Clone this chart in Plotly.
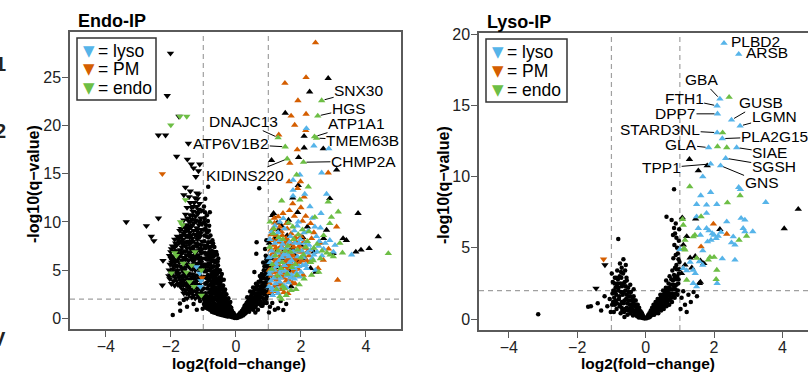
import plotly.graph_objects as go

W, H = 808, 374
BLUE = '#56B4E9'
ORANGE = '#D55E00'
GREEN = '#6DBE45'
BLACK = '#000000'
AXC = '#5a5a5a'
FONT = 'Liberation Sans, Arial, Helvetica, sans-serif'

FC_CUT = 1.0
Q_CUT = 2.0

# ---------------- Endo-IP data (log2 fold-change, -log10 q) ----------------
endo_ns = [
    (-0.97,1.9),(-0.99,3.1),(-0.96,4.3),(-0.98,5.6),(-0.95,6.8),(-0.97,8.0),(-0.99,9.2),(-0.96,10.4),(-0.98,11.6),
    (-0.91,1.6),(-0.93,2.6),(-0.9,3.7),(-0.92,4.9),(-0.89,6.1),(-0.93,7.3),(-0.9,8.5),(-0.92,9.7),(-0.94,12.4),
    (-0.85,1.4),(-0.87,2.3),(-0.84,3.4),(-0.86,4.5),(-0.83,5.7),(-0.87,6.7),(-0.85,7.9),(-0.83,9.1),(-0.86,10.1),(-0.85,13.65),
    (-0.79,1.2),(-0.81,2.1),(-0.78,3.0),(-0.8,4.1),(-0.77,5.2),(-0.81,6.3),(-0.79,7.4),(-0.78,8.6),(-0.8,11.0),
    (-0.73,1.0),(-0.75,1.9),(-0.72,2.8),(-0.74,3.8),(-0.71,4.8),(-0.75,5.9),(-0.73,7.0),(-0.72,8.1),
    (-0.67,0.9),(-0.69,1.7),(-0.66,2.6),(-0.68,3.5),(-0.65,4.5),(-0.69,5.4),(-0.67,6.5),(-0.66,7.4),
    (-0.61,0.8),(-0.63,1.5),(-0.6,2.4),(-0.62,3.2),(-0.59,4.1),(-0.63,5.0),(-0.61,6.0),(-0.6,6.9),
    (-0.55,0.7),(-0.57,1.4),(-0.54,2.2),(-0.56,3.0),(-0.53,3.8),(-0.57,4.6),(-0.55,5.5),(-0.54,6.2),
    (-0.49,0.6),(-0.51,1.2),(-0.48,1.9),(-0.5,2.7),(-0.47,3.4),(-0.51,4.2),(-0.49,5.0),
    (-0.43,0.5),(-0.45,1.1),(-0.42,1.8),(-0.44,2.5),(-0.41,3.2),(-0.45,3.9),(-0.43,4.6),
    (-0.37,0.4),(-0.39,1.0),(-0.36,1.6),(-0.38,2.2),(-0.35,2.8),(-0.39,3.4),(-0.37,4.0),
    (-0.31,0.3),(-0.33,0.8),(-0.3,1.4),(-0.32,1.9),(-0.29,2.5),(-0.33,3.0),
    (-0.25,0.25),(-0.27,0.7),(-0.24,1.2),(-0.26,1.7),(-0.23,2.1),
    (-0.19,0.2),(-0.21,0.6),(-0.18,1.0),(-0.2,1.4),(-0.17,1.7),
    (-0.13,0.15),(-0.15,0.45),(-0.12,0.8),(-0.14,1.1),
    (-0.08,0.08),(-0.09,0.3),(-0.07,0.55),(-0.03,0.04),(-0.04,0.18),
    (-0.88,5.0),(-0.82,6.9),(-0.76,4.4),(-0.7,6.0),(-0.64,3.7),(-0.58,5.1),(-0.52,2.6),(-0.46,4.3),(-0.4,1.4),
    (-0.34,2.0),(-0.28,1.0),(-0.22,0.9),(-0.94,2.2),(-0.76,2.4),(-0.64,1.2),(-0.52,0.9),(-0.88,8.9),(-0.7,7.8),
    (-0.58,6.6),(-0.95,11.0),
    (-0.95,1.3),(-0.97,2.5),(-0.94,3.6),(-0.96,4.9),(-0.93,6.2),(-0.95,7.5),(-0.96,8.6),(-0.93,9.3),(-0.97,10.0),
    (-0.89,2.0),(-0.88,3.1),(-0.9,4.2),(-0.87,5.4),(-0.91,6.6),(-0.88,7.6),(-0.9,9.0),(-0.89,10.7),
    (-0.83,1.7),(-0.82,2.7),(-0.84,3.9),(-0.81,5.0),(-0.85,6.1),(-0.82,7.3),(-0.84,8.4),(-0.82,9.6),
    (-0.77,1.5),(-0.76,2.5),(-0.78,3.5),(-0.75,4.6),(-0.79,5.6),(-0.76,6.6),(-0.77,7.9),
    (-0.71,1.3),(-0.7,2.2),(-0.72,3.2),(-0.69,4.2),(-0.73,5.3),(-0.7,6.4),(-0.71,7.5),
    (-0.65,1.2),(-0.64,2.0),(-0.66,3.0),(-0.63,3.9),(-0.67,4.9),(-0.64,5.8),(-0.66,6.9),
    (-0.59,1.1),(-0.58,1.9),(-0.6,2.8),(-0.57,3.6),(-0.61,4.5),(-0.58,5.4),
    (-0.53,1.0),(-0.52,1.6),(-0.54,2.5),(-0.51,3.3),(-0.55,4.1),(-0.52,4.8),
    (-0.47,0.8),(-0.46,1.5),(-0.48,2.3),(-0.45,3.0),(-0.49,3.7),
    (-0.41,0.7),(-0.4,1.3),(-0.42,2.1),(-0.39,2.7),(-0.43,3.4),
    (-0.35,0.6),(-0.34,1.2),(-0.36,1.8),(-0.33,2.4),
    (-0.29,0.5),(-0.28,1.1),(-0.3,1.6),(-0.27,2.0),
    (-0.23,0.4),(-0.22,0.9),(-0.24,1.4),
    (-0.17,0.35),(-0.16,0.75),(-0.18,1.2),
    (-0.11,0.25),(-0.1,0.6),(-0.06,0.15),(-0.05,0.4),
    (-0.98,1.5),(-0.92,1.1),(-0.86,1.0),(-0.8,0.9),(-0.74,0.7),(-0.68,0.6),(-0.62,0.55),(-0.56,0.45),(-0.5,0.4),
    (-0.44,0.35),(-0.38,0.3),(-0.32,0.25),(-0.26,0.2),(-0.96,5.3),(-0.9,5.6),(-0.84,6.5),(-0.78,6.2),(-0.72,6.7),
    (-0.68,4.0),(-0.62,4.7),(-0.56,5.9),(-0.5,3.1),(-0.44,2.1),(-0.38,1.9),(-0.32,1.6),(-0.26,1.4),(-0.2,1.1),
    (-0.14,0.6),(-0.08,0.4),
    (0.03,0.05),(0.06,0.2),(0.09,0.12),(0.1,0.4),(0.13,0.25),(0.14,0.6),(0.17,0.35),(0.19,0.8),(0.21,0.5),
    (0.23,1.0),(0.25,0.7),(0.27,1.3),(0.29,0.5),(0.31,1.0),(0.33,1.6),(0.35,0.8),(0.37,1.3),(0.39,1.9),
    (0.41,0.7),(0.43,1.5),(0.45,2.2),(0.47,1.1),(0.49,1.8),(0.51,2.6),(0.53,0.9),(0.55,1.5),(0.57,2.2),
    (0.59,3.0),(0.61,1.2),(0.63,1.9),(0.65,2.6),(0.67,3.4),(0.69,1.5),(0.71,2.3),(0.73,3.0),(0.75,3.8),
    (0.77,1.7),(0.79,2.6),(0.81,3.4),(0.83,4.2),(0.85,2.0),(0.87,2.9),(0.89,3.7),(0.91,4.6),(0.93,5.4),
    (0.95,2.3),(0.97,3.2),(0.99,4.1),(0.96,5.0),(0.98,6.0),(0.92,6.5),(0.86,5.0),(0.8,4.6),(0.74,4.4),
    (0.62,3.6),(0.53,3.2),(0.63,6.7),(0.64,7.9),(0.94,8.1),(0.72,13.5),(0.57,4.8),(0.9,7.2),(0.84,5.8),
    (0.44,2.8),(0.35,2.2),(0.68,0.9),(0.82,1.3),(0.95,1.6),(0.6,0.6),
    (0.05,0.1),(0.08,0.3),(0.12,0.5),(0.16,0.2),(0.18,0.6),(0.22,0.3),(0.24,0.8),(0.26,1.1),(0.28,0.9),
    (0.3,1.4),(0.32,0.6),(0.34,1.2),(0.36,1.7),(0.38,1.0),(0.4,1.6),(0.42,2.1),(0.46,1.6),(0.48,2.4),(0.5,1.3),
    (0.52,2.0),(0.54,2.8),(0.56,1.1),(0.58,1.8),(0.6,2.5),(0.62,3.2),(0.64,1.6),(0.66,2.2),(0.68,3.0),(0.7,3.8),
    (0.72,1.9),(0.74,2.6),(0.76,3.3),(0.78,4.1),(0.8,2.2),(0.82,2.9),(0.84,3.7),(0.86,4.5),(0.88,2.5),(0.9,3.3),
    (0.92,4.1),(0.94,4.9),(0.96,5.8),(0.98,2.8),(0.99,3.6),(0.97,4.5),(0.94,6.1),(0.88,5.4),(0.99,5.4),
    (0.07,0.35),(0.11,0.2),(0.15,0.45),(0.2,0.65),(0.25,0.4),(0.3,0.8),(0.35,1.1),(0.4,1.1),(0.45,1.3),
    (0.5,1.0),(0.55,2.0),(0.6,1.8),(0.65,2.0),(0.7,2.6),(0.75,2.2),(0.8,3.0),(0.85,3.3),(0.9,2.6),(0.95,3.7),
    (0.98,4.8),(0.93,2.0),(0.87,1.6),(0.78,1.3),
    (1.3,1.04),(1.46,0.86),(1.05,1.2),(1.2,0.9),(1.12,1.6),(1.38,1.8),(1.55,1.5),(1.02,0.6),
    (-1.72,1.55),(-1.94,0.34),(-1.71,0.8),(-1.3,1.5),(-1.5,1.2),(-1.1,1.8),(-1.2,0.9),(-1.02,1.0),(-1.6,1.9),
]
endo_down_other = [
    (-1.02,2.2),(-1.08,2.6),(-1.15,2.3),(-1.22,2.8),(-1.3,2.4),(-1.38,3.0),(-1.45,2.5),(-1.55,2.9),(-1.62,3.4),
    (-1.04,3.1),(-1.12,3.5),(-1.2,3.9),(-1.28,3.3),(-1.36,3.7),(-1.44,4.1),(-1.5,3.5),(-1.58,4.0),(-1.66,3.8),
    (-1.74,4.3),(-1.82,3.9),(-1.9,4.4),(-1.98,3.6),(-2.03,4.1),(-1.05,4.3),(-1.1,4.8),(-1.18,4.5),(-1.25,5.0),
    (-1.33,4.6),(-1.4,5.2),(-1.48,4.7),(-1.55,5.3),(-1.62,4.9),(-1.7,5.4),(-1.78,5.0),(-1.86,5.5),(-1.94,5.1),
    (-2.02,5.6),(-1.03,5.5),(-1.1,6.0),(-1.17,5.7),(-1.24,6.3),(-1.31,5.9),(-1.39,6.4),(-1.46,6.0),(-1.53,6.6),
    (-1.6,6.2),(-1.68,6.7),(-1.76,6.3),(-1.84,6.8),(-1.92,6.4),(-2.0,6.9),(-1.05,6.8),(-1.12,7.3),(-1.2,7.0),
    (-1.27,7.5),(-1.35,7.1),(-1.43,7.7),(-1.5,7.3),(-1.58,7.8),(-1.66,7.4),(-1.74,7.9),(-1.82,7.6),(-1.88,8.2),
    (-1.04,8.0),(-1.1,8.5),(-1.18,8.2),(-1.26,8.7),(-1.34,8.3),(-1.42,8.9),(-1.5,8.5),(-1.57,9.0),(-1.65,8.6),
    (-1.72,9.1),(-1.06,9.2),(-1.13,9.7),(-1.21,9.4),(-1.29,9.9),(-1.37,9.5),(-1.45,10.1),(-1.52,9.7),(-1.6,10.2),
    (-1.08,10.4),(-1.16,10.9),(-1.24,10.6),(-1.32,11.1),(-1.4,10.7),(-1.2,11.6),(-1.28,12.0),(-1.12,11.9),
    (-1.36,11.5),(-1.18,12.4),(-1.44,12.6),
    (-1.08,3.9),(-1.3,4.2),(-1.52,4.3),(-1.75,4.7),(-1.95,4.8),(-1.15,5.3),(-1.37,5.5),(-1.6,5.7),(-1.82,6.0),
    (-1.26,6.8),(-1.47,6.9),(-1.7,7.1),(-1.95,7.5),(-1.15,7.7),(-1.38,7.9),(-1.62,8.2),(-1.8,8.5),(-1.3,9.1),
    (-1.5,9.4),(-1.15,8.9),(-1.4,3.4),(-1.7,3.3),(-1.88,3.4),(-1.6,2.6),(-1.25,2.1),(-1.12,10.1),(-1.55,10.8),
    (-1.06,2.9),(-1.19,3.1),(-1.33,2.7),(-1.48,3.2),(-1.57,3.6),(-1.72,3.6),(-1.85,4.2),(-2.0,4.5),(-1.13,4.1),
    (-1.27,4.4),(-1.42,4.6),(-1.58,4.5),(-1.68,4.4),(-1.8,4.6),(-1.92,5.4),(-2.05,5.0),(-1.07,5.0),(-1.21,5.5),
    (-1.34,5.1),(-1.5,5.6),(-1.64,5.2),(-1.74,5.8),(-1.88,5.8),(-1.99,6.2),(-1.08,5.8),(-1.2,6.4),(-1.35,6.2),
    (-1.44,6.5),(-1.57,6.3),(-1.72,6.5),(-1.8,7.0),(-1.9,7.0),(-1.07,7.6),(-1.23,7.8),(-1.31,7.4),(-1.46,8.0),
    (-1.55,7.5),(-1.68,8.0),(-1.78,8.2),(-1.85,7.8),(-1.09,8.8),(-1.22,8.6),(-1.38,8.6),(-1.46,9.2),(-1.6,8.8),
    (-1.68,9.3),(-1.1,9.9),(-1.26,10.2),(-1.35,10.3),(-1.48,10.4),(-1.56,9.4),(-1.2,11.0),(-1.3,11.6),(-1.4,12.0),
    (-1.15,12.9),(-1.25,12.5),(-1.5,11.5),(-1.05,11.2),(-1.03,6.2),(-1.03,7.2),(-1.04,9.8),(-1.14,6.6),(-1.3,6.5),
    (-1.56,7.0),(-1.4,4.0),(-1.64,4.2),(-1.25,3.7),(-1.12,2.1),(-1.35,2.2),(-1.5,2.1),(-1.95,6.0),(-2.04,6.5),
    (-1.98,7.2),
    (-1.03,2.5),(-1.1,3.3),(-1.17,2.6),(-1.23,3.5),(-1.32,3.0),(-1.42,2.8),(-1.52,2.6),(-1.63,3.0),(-1.78,3.5),
    (-1.92,3.9),(-2.06,4.4),(-1.14,4.4),(-1.22,4.1),(-1.36,4.3),(-1.46,3.8),(-1.56,4.7),(-1.7,4.0),(-1.84,4.9),
    (-1.97,5.8),(-1.09,5.3),(-1.28,5.6),(-1.44,5.4),(-1.58,5.0),(-1.66,6.0),(-1.8,5.4),(-1.9,6.1),(-1.13,6.3),
    (-1.28,6.1),(-1.41,6.8),(-1.55,6.1),(-1.64,6.9),(-1.78,6.7),(-1.88,7.4),(-1.1,7.0),(-1.2,7.5),(-1.4,7.3),
    (-1.52,7.9),(-1.64,7.7),(-1.72,8.4),(-1.17,8.5),(-1.32,8.0),(-1.42,8.4),(-1.55,8.6),(-1.2,9.1),(-1.34,9.7),
    (-1.43,9.6),(-1.22,10.1),(-1.4,10.1),(-1.15,11.3),(-1.33,10.7),
    (-2.01,27.5),(-2.11,23.1),(-1.75,20.95),(-2.38,19.0),(-2.16,19.0),(-1.46,18.15),(-1.82,16.8),(-1.49,16.5),
    (-1.37,16.0),(-1.11,16.0),(-3.37,10.0),(-2.38,10.4),(-2.75,9.6),(-2.6,8.5),(-2.52,8.05),(-2.24,6.0),
    (-2.26,3.45),(-1.23,14.7),(-1.15,15.3),(-1.3,15.6),(-1.55,13.6),(-1.4,13.2),(-1.2,13.0),(-1.6,12.8),
]
endo_down_endo = [(-2.0,20.05),(-1.72,20.95),(-1.51,20.95),(-1.55,12.3),(-1.7,10.0),(-1.65,9.7),(-1.88,6.8),
                  (-1.26,6.9),(-1.62,5.7),(-1.36,5.5),(-1.98,4.7),(-1.52,4.8),(-1.06,5.0),(-1.29,3.3),(-1.06,2.4),
                  (-1.42,3.8),(-1.83,6.5)]
endo_down_lyso = [(-1.21,5.35),(-1.11,4.67),(-1.09,3.3),(-1.07,3.9)]
endo_down_pm = [(-2.26,15.0),(-1.04,4.2)]

endo_up_other = [
    (2.84,24.9),(2.27,23.5),(1.52,21.3),(2.1,18.9),(2.69,17.6),(2.1,17.7),(1.1,16.4),(1.93,16.7),(3.1,15.4),
    (1.92,13.8),(1.75,12.5),(2.89,12.45),(3.76,10.9),(1.13,10.7),(1.16,10.9),(1.62,10.2),(2.79,9.16),(3.3,8.3),
    (3.4,8.1),(4.38,8.47),(3.69,6.9),(3.85,7.1),(4.1,7.26),(2.99,6.75),(2.7,8.3),(2.46,4.8),(1.09,2.6),
    (1.2,8.3),(1.5,7.1),(1.8,6.6),(1.35,5.3),(1.65,4.9),(2.0,7.6),(1.1,6.2),(2.2,9.5),(1.4,9.6),(1.9,11.0),
    (2.3,5.2),(1.25,3.5),(1.7,3.3),(1.03,7.8),(1.58,8.6),(2.12,6.2),(1.27,9.9),
    (1.06,5.4),(1.24,6.9),(1.44,6.2),(1.58,5.6),(1.73,7.3),(1.88,6.0),(2.06,8.4),(2.4,6.9),(1.32,9.2),(1.15,4.2),
]
endo_up_pm = [
    (2.45,28.6),(1.51,24.4),(2.16,25.0),(1.91,22.6),(1.7,21.0),(2.16,21.2),(1.81,20.05),(2.15,19.5),(1.32,19.05),
    (1.89,17.5),(1.66,16.1),(2.84,15.1),(1.64,14.2),(1.99,14.2),(1.9,13.5),(2.1,12.6),(1.3,10.55),(1.56,9.85),
    (2.3,9.85),(3.1,9.5),(2.69,6.05),(2.53,5.19),(1.82,3.6),(1.05,3.6),(3.13,3.97),
    (1.12,9.2),(1.25,8.6),(1.4,9.0),(1.55,8.3),(1.7,8.8),(1.85,8.0),(2.0,8.5),(1.18,7.6),(1.32,7.2),(1.48,7.7),
    (1.62,7.0),(1.78,7.4),(1.95,6.9),(2.12,7.3),(2.25,6.5),(1.08,6.5),(1.22,6.1),(1.38,6.6),(1.52,5.9),(1.68,6.3),
    (1.85,5.7),(2.02,6.0),(1.15,5.2),(1.3,5.6),(1.45,5.0),(1.6,5.4),(1.75,4.8),(1.92,5.1),(1.1,4.4),(1.25,4.0),
    (1.4,4.5),(1.55,3.9),(1.7,4.3),(1.2,3.3),(1.38,3.0),(1.05,2.7),(2.4,8.9),(2.6,7.8),(2.15,10.6),(1.45,10.9),
    (2.0,11.5),(1.75,11.9),(2.85,7.2),(1.6,2.6),
    (1.14,8.1),(1.34,7.9),(1.5,6.4),(1.66,5.9),(1.24,4.8),(1.47,4.2),(1.32,3.6),(1.8,6.1),(1.95,7.5),(1.18,5.7),
    (1.03,5.0),(1.07,7.1),(1.09,8.7),(1.13,4.8),(1.16,6.8),(1.19,9.9),(1.21,4.3),(1.23,7.3),(1.27,5.9),(1.29,8.2),
    (1.33,4.9),(1.36,6.3),(1.39,7.5),(1.41,3.5),(1.43,8.6),(1.46,5.4),(1.49,6.9),(1.51,4.7),(1.54,7.9),(1.57,5.1),
    (1.59,6.1),(1.61,8.1),(1.63,4.0),(1.67,6.7),(1.69,5.6),(1.72,7.7),(1.74,3.7),(1.77,6.5),(1.79,5.0),(1.83,8.4),
    (1.87,6.2),(1.9,4.4),(1.93,7.2),(1.97,5.8),(2.03,6.9),(2.07,4.5),(2.1,8.0),(2.18,6.0),(2.22,7.0),(2.28,5.9),
    (2.33,8.3),(1.11,3.0),(1.26,2.8),(1.48,2.7),(1.18,10.4),(1.35,9.5),(1.58,9.3),(1.8,10.6),(2.05,10.1),(1.65,11.2),
]
endo_up_lyso = [
    (2.17,19.7),(2.4,17.9),(2.86,17.6),(2.64,15.1),(1.97,14.9),(1.76,14.35),(1.76,13.3),(1.76,12.7),(2.12,12.9),
    (2.79,12.9),(2.28,11.6),(2.62,10.9),(1.46,10.37),(1.92,10.0),(2.43,9.5),(3.05,7.6),(2.89,8.1),(2.56,8.0),
    (3.56,6.6),(1.97,4.3),(1.69,4.2),(1.15,2.9),
    (1.05,8.2),(1.2,9.6),(1.35,8.1),(1.5,9.3),(1.65,7.9),(1.8,9.1),(1.95,7.8),(2.1,8.9),(2.25,7.6),(1.1,7.0),
    (1.28,6.8),(1.42,6.3),(1.58,6.7),(1.72,6.0),(1.9,6.4),(2.05,5.5),(2.2,6.8),(2.35,6.2),(1.05,5.8),(1.18,5.0),
    (1.35,4.7),(1.5,5.5),(1.65,5.8),(1.8,5.2),(2.0,4.8),(2.15,5.6),(1.08,3.9),(1.22,3.6),(1.35,3.8),(1.48,3.4),
    (1.62,3.7),(1.8,4.1),(1.12,3.1),(1.3,2.6),(2.7,7.2),(2.5,6.9),(2.45,5.0),(3.0,6.9),(2.6,9.4),(2.35,10.4),
    (1.04,4.6),(1.4,7.3),(1.57,4.4),(1.25,5.4),(1.85,7.0),(1.02,3.3),
    (1.02,6.3),(1.06,4.9),(1.1,9.0),(1.14,6.4),(1.17,4.2),(1.2,7.8),(1.24,5.7),(1.27,3.1),(1.3,8.9),(1.33,6.0),
    (1.37,4.2),(1.4,5.0),(1.44,7.7),(1.47,6.6),(1.52,4.9),(1.55,7.3),(1.6,4.7),(1.63,6.4),(1.68,8.5),(1.71,4.5),
    (1.76,6.9),(1.82,7.8),(1.86,4.7),(1.89,9.6),(1.94,5.4),(1.98,8.2),(2.03,7.0),(2.08,6.3),(2.13,7.8),(2.18,5.2),
    (2.23,9.1),(2.3,7.1),(2.4,6.6),(2.48,8.5),(2.55,7.5),(2.65,6.5),(2.75,7.8),(1.13,2.4),(1.22,2.9),(1.56,3.2),
    (1.35,10.0),
]
endo_up_endo = [
    (2.64,22.6),(2.52,21.0),(2.42,18.85),(2.48,18.7),(1.3,18.75),(1.52,17.8),(1.58,16.55),(2.08,16.2),(1.87,14.9),
    (2.23,13.65),(1.41,12.2),(1.97,12.3),(2.84,12.1),(3.15,11.05),(2.94,10.5),(2.43,10.5),(1.05,10.0),(2.89,9.85),
    (4.69,6.74),(3.28,6.8),(3.0,6.4),(2.9,6.6),(2.33,4.5),(1.44,3.3),(1.35,2.25),
    (1.15,8.8),(1.45,8.2),(1.75,9.5),(2.05,9.2),(1.3,7.0),(1.6,7.5),(1.9,7.1),(2.2,8.0),(2.4,7.3),(1.12,5.6),
    (1.42,5.8),(1.72,5.3),(2.08,6.6),(2.3,5.8),(2.6,6.2),(1.28,4.4),(1.58,4.6),(1.88,4.5),(2.1,4.1),(1.5,3.1),
    (1.7,2.9),(2.55,4.8),(2.7,8.6),(3.2,7.8),(1.4,2.0),(1.95,3.5),
    (1.04,7.4),(1.1,5.1),(1.17,9.3),(1.22,6.5),(1.32,8.4),(1.38,5.2),(1.52,7.0),(1.62,9.9),(1.68,6.9),(1.78,8.2),
    (1.83,5.6),(1.92,8.7),(2.0,6.3),(2.15,7.4),(2.25,9.0),(2.38,6.0),(2.5,7.7),(2.65,7.0),(2.8,6.8),(1.25,3.0),
    (1.55,2.4),(1.85,3.0),
]

# ---------------- Lyso-IP data ----------------
lyso_ns = [
    (-0.03,0.04),(-0.06,0.15),(-0.09,0.08),(-0.1,0.35),(-0.13,0.2),(-0.15,0.55),(-0.17,0.3),(-0.19,0.8),
    (-0.21,0.45),(-0.23,1.0),(-0.25,0.2),(-0.27,0.7),(-0.29,1.3),(-0.31,0.4),(-0.33,1.0),(-0.35,1.6),(-0.37,0.25),
    (-0.39,0.7),(-0.41,1.3),(-0.43,1.9),(-0.45,0.4),(-0.47,1.0),(-0.49,1.6),(-0.51,2.2),(-0.53,0.3),(-0.55,0.8),
    (-0.57,1.4),(-0.59,2.0),(-0.61,2.6),(-0.63,0.5),(-0.65,1.1),(-0.67,1.7),(-0.69,2.3),(-0.71,2.9),(-0.73,0.4),
    (-0.75,1.0),(-0.77,1.6),(-0.79,2.2),(-0.81,2.8),(-0.83,3.4),(-0.85,0.7),(-0.87,1.3),(-0.89,1.9),(-0.91,2.5),
    (-0.93,0.5),(-0.95,1.2),(-0.97,1.8),(-0.99,3.2),(-0.75,3.9),(-0.65,4.2),(-0.6,3.4),(-0.8,5.62),(-0.72,3.3),
    (-0.55,2.7),(-0.45,2.4),(-0.35,2.1),(-0.5,1.3),(-0.4,0.9),(-0.3,0.6),(-0.2,0.1),(-0.62,0.15),(-0.7,0.8),
    (-0.9,1.0),(-0.84,2.4),
    (-0.05,0.1),(-0.08,0.25),(-0.12,0.45),(-0.14,0.1),(-0.16,0.4),(-0.18,0.6),(-0.2,0.3),(-0.22,0.7),(-0.24,0.55),
    (-0.26,1.0),(-0.28,0.35),(-0.3,0.9),(-0.32,1.3),(-0.34,0.5),(-0.36,1.1),(-0.38,1.4),(-0.4,0.55),(-0.42,1.0),
    (-0.44,1.6),(-0.46,0.7),(-0.48,1.3),(-0.5,1.9),(-0.52,0.6),(-0.54,1.1),(-0.56,1.7),(-0.58,2.3),(-0.6,0.7),
    (-0.62,1.3),(-0.64,1.9),(-0.66,2.5),(-0.68,0.6),(-0.7,1.2),(-0.72,1.9),(-0.74,2.5),(-0.76,0.9),(-0.78,1.4),
    (-0.8,2.0),(-0.82,2.5),(-0.84,1.1),(-0.86,1.7),(-0.88,2.2),(-0.9,2.9),(-0.92,1.5),(-0.94,2.0),(-0.96,2.6),
    (-0.98,1.0),(-0.66,3.2),(-0.76,3.0),(-0.86,2.9),(-0.56,2.9),(-0.7,3.6),(-0.58,3.8),
    (-1.05,1.4),(-1.12,0.9),(-1.2,1.6),(-1.3,0.6),(-1.6,0.9),(-1.68,0.87),(-3.14,0.33),(-1.02,0.5),(-1.4,1.1),
    (0.03,0.05),(0.06,0.2),(0.09,0.1),(0.11,0.4),(0.13,0.2),(0.15,0.6),(0.17,0.35),(0.19,0.8),(0.21,0.5),
    (0.23,1.0),(0.25,0.3),(0.27,0.7),(0.29,1.2),(0.31,0.5),(0.33,0.9),(0.35,1.4),(0.37,0.4),(0.39,0.8),
    (0.41,1.3),(0.43,1.7),(0.45,0.6),(0.47,1.0),(0.49,1.5),(0.51,2.0),(0.53,0.7),(0.55,1.2),(0.57,1.7),
    (0.59,2.2),(0.61,0.9),(0.63,1.4),(0.65,1.9),(0.67,2.5),(0.69,1.0),(0.71,1.6),(0.73,2.1),(0.75,2.8),
    (0.77,1.2),(0.79,1.8),(0.81,2.4),(0.83,3.1),(0.85,1.5),(0.87,2.1),(0.89,2.8),(0.91,3.5),(0.93,1.7),
    (0.95,2.5),(0.97,3.2),(0.99,4.0),(0.61,7.19),(0.76,6.96),(0.83,6.4),(0.86,6.0),(0.9,5.7),(0.84,5.2),
    (0.92,5.0),(0.81,4.27),(0.96,4.2),(0.9,3.8),(0.86,3.6),(0.78,3.4),(0.7,3.0),(0.6,2.7),(0.83,9.11),
    (0.05,0.12),(0.08,0.3),(0.12,0.15),(0.14,0.45),(0.16,0.25),(0.18,0.55),(0.2,0.3),(0.22,0.75),(0.24,0.5),
    (0.26,0.95),(0.28,0.4),(0.3,0.85),(0.32,1.2),(0.34,0.6),(0.36,1.0),(0.38,1.35),(0.4,0.7),(0.42,1.1),
    (0.44,1.5),(0.46,0.85),(0.48,1.25),(0.5,1.7),(0.52,0.9),(0.54,1.4),(0.56,1.9),(0.58,1.05),(0.6,1.6),
    (0.62,2.1),(0.64,1.2),(0.66,1.7),(0.68,2.2),(0.7,1.35),(0.72,1.8),(0.74,2.4),(0.76,1.5),(0.78,2.1),
    (0.8,2.7),(0.82,1.6),(0.84,2.3),(0.86,2.9),(0.88,1.8),(0.9,2.4),(0.92,3.0),(0.94,2.0),(0.96,2.8),
    (0.98,3.5),(0.88,4.5),(0.94,4.6),(0.97,5.5),(0.8,5.9),(0.88,6.7),(0.98,6.3),
    (1.05,1.5),(1.15,1.0),(1.25,1.7),(1.02,0.7),(1.4,1.9),(1.1,1.95),(1.2,0.5),(1.32,1.2),(1.5,1.6),
]
lyso_down_other = [(-1.19,3.8),(-1.45,2.16)]
lyso_down_pm = [(-1.23,4.2)]
lyso_up_other = [(1.28,11.22),(1.8,10.77),(1.54,10.42),(4.46,7.71),(4.05,6.35),(1.07,7.12),(1.46,7.03),(2.17,6.3),
                 (1.6,4.1),(1.7,3.9),(1.45,4.4),(1.3,4.3),(1.15,3.8),(1.57,2.51),(1.35,3.6),(1.05,3.2),(1.2,5.8),
                 (1.1,5.2),(1.6,2.6)]
lyso_up_pm = [(1.98,6.68),(2.37,5.97),(1.62,5.08)]
lyso_up_lyso = [
    (2.29,19.37),(2.72,18.6),(2.17,15.46),(2.09,14.97),(2.1,14.41),(2.51,13.98),(2.76,13.56),(2.09,13.09),
    (2.24,12.67),(1.84,12.04),(2.66,12.04),(2.34,11.29),(1.9,10.89),(2.19,10.77),(1.67,10.0),(1.61,8.67),(1.9,8.9),
    (2.72,9.25),(2.77,9.1),(3.51,8.2),(1.49,8.06),(1.78,8.01),(2.08,8.06),(1.49,7.19),(1.78,7.43),(2.37,6.84),
    (2.79,7.08),(2.9,6.96),(1.54,6.37),(1.78,6.37),(1.85,6.2),(2.12,5.83),(2.06,5.67),(2.85,6.37),(2.9,6.14),
    (3.13,6.14),(2.56,5.78),(1.91,5.55),(1.81,5.43),(2.51,5.36),(2.61,5.2),(1.0,4.9),(1.67,4.8),(2.24,4.24),
    (2.61,4.15),(1.57,4.03),(1.67,3.79),(1.1,3.56),(1.2,3.4),(1.39,3.44),(1.45,3.2),(1.39,2.51),(1.49,2.27),
    (2.09,2.51),(1.3,4.0),(1.6,5.9),(2.0,5.9),(2.2,6.1),(1.95,6.0),
]
lyso_up_endo = [(2.44,15.58),(2.25,13.09),(2.1,12.11),(2.37,12.04),(1.29,9.3),(2.76,8.67),(2.39,8.17),(1.44,5.9),
                (1.39,5.78),(1.15,5.55),(2.95,5.83),(2.73,5.55),(1.12,4.97),(1.15,4.85),(1.88,4.34),(2.0,4.34),
                (1.83,4.15),(1.49,4.27),(2.08,3.44),(1.2,2.74),(2.06,2.79),(1.08,7.0),(1.1,6.6),(1.62,7.2)]

# ---------------- labels ----------------
endo_label_names = ['SNX30', 'HGS', 'ATP1A1', 'TMEM63B', 'CHMP2A', 'DNAJC13', 'ATP6V1B2', 'KIDINS220']
endo_label_x = [2.64, 2.52, 2.42, 2.48, 2.08, 1.3, 1.52, 1.58]
endo_label_y = [22.6, 21.0, 18.85, 18.7, 16.2, 18.75, 17.8, 16.55]
endo_label_ax = [37, 31, 42, 46, 60, -35, -54, -42]
endo_label_ay = [-10, -7, -13, 2, -1, -16, -3, 17]

lyso_label_names = ['PLBD2', 'ARSB', 'GBA', 'FTH1', 'DPP7', 'GUSB', 'LGMN', 'STARD3NL', 'PLA2G15',
                    'GLA', 'SIAE', 'SGSH', 'TPP1', 'GNS']
lyso_label_x = [2.29, 2.72, 2.17, 2.09, 2.1, 2.51, 2.76, 2.09, 2.24, 1.84, 2.66, 2.34, 1.9, 2.19]
lyso_label_y = [19.37, 18.6, 15.46, 14.97, 14.41, 13.98, 13.56, 13.09, 12.67, 12.04, 12.04, 11.29, 10.89, 10.77]
lyso_label_ax = [None, None, -18, -33, -42, 29, 34, -57, 52, -28, 33, 48, -49, 41]
lyso_label_ay = [None, None, -19, -7, 0, -17, -9, -3, -2, -3, 5, 8, 4, 17]

legend_names = ['= lyso', '= PM', '= endo']
legend_colors = [BLUE, ORANGE, GREEN]

x_ticks = [-4, -2, 0, 2, 4]
endo_y_ticks = [0, 5, 10, 15, 20, 25]
lyso_y_ticks = [0, 5, 10, 15, 20]


def px(v):
    return v / W


def py(v):
    # target pixel row -> paper fraction (corrects the small vertical offset seen in the capture)
    v = (v - 6.9) / 0.9816
    return 1 - v / H


fig = go.Figure()


def add(pts, symbol, color, size, xa, ya):
    fig.add_trace(go.Scatter(
        x=[p[0] for p in pts], y=[p[1] for p in pts], mode='markers',
        marker=dict(symbol=symbol, color=color, size=size, line=dict(width=0)),
        xaxis=xa, yaxis=ya, hoverinfo='skip', showlegend=False))


DOT, TRI = 4.5, 6.5
for xa, ya, sets in [
    ('x', 'y', [(endo_ns, 'circle', BLACK, DOT), (endo_down_other, 'triangle-down', BLACK, TRI),
                (endo_up_other, 'triangle-up', BLACK, TRI), (endo_down_pm, 'triangle-down', ORANGE, TRI),
                (endo_up_pm, 'triangle-up', ORANGE, TRI), (endo_down_lyso, 'triangle-down', BLUE, TRI),
                (endo_up_lyso, 'triangle-up', BLUE, TRI), (endo_down_endo, 'triangle-down', GREEN, TRI),
                (endo_up_endo, 'triangle-up', GREEN, TRI)]),
    ('x2', 'y2', [(lyso_ns, 'circle', BLACK, DOT), (lyso_down_other, 'triangle-down', BLACK, TRI),
                  (lyso_up_other, 'triangle-up', BLACK, TRI), (lyso_down_pm, 'triangle-down', ORANGE, TRI),
                  (lyso_up_pm, 'triangle-up', ORANGE, TRI), (lyso_up_lyso, 'triangle-up', BLUE, TRI),
                  (lyso_up_endo, 'triangle-up', GREEN, TRI)]),
]:
    for pts, sym, col, sz in sets:
        add(pts, sym, col, sz, xa, ya)

axis_common = dict(showgrid=False, zeroline=False, showline=True, linecolor=AXC, linewidth=1.5,
                   ticks='outside', ticklen=6, tickwidth=1.3, tickcolor=AXC,
                   tickfont=dict(family=FONT, size=16, color='#222'))

fig.update_layout(
    width=W, height=H, margin=dict(l=0, r=0, t=0, b=0),
    paper_bgcolor='white', plot_bgcolor='white',
    xaxis=dict(domain=[px(70), px(401)], range=[-5.1, 5.08], tickvals=x_ticks, anchor='y', mirror=True,
               ticklabelstandoff=-4, **axis_common),
    yaxis=dict(domain=[py(329), py(32)], range=[-1.1, 29.7], tickvals=endo_y_ticks, anchor='x', mirror=True,
               ticklabelstandoff=-2, **axis_common),
    xaxis2=dict(domain=[px(479), 1.0], range=[-4.87, 4.745], tickvals=x_ticks, anchor='y2', mirror=True,
                ticklabelstandoff=-4, **axis_common),
    yaxis2=dict(domain=[py(330), py(33)], range=[-0.77, 20.08], tickvals=lyso_y_ticks, anchor='x2',
                ticklabelstandoff=-2, **axis_common),
)

dash = dict(color='#a0a0a0', width=1.2, dash='5px,4px')
shapes = []
for xr, yr in [('x', 'y'), ('x2', 'y2')]:
    for xv in (-FC_CUT, FC_CUT):
        shapes.append(dict(type='line', xref=xr, yref=yr + ' domain', x0=xv, x1=xv, y0=0, y1=1,
                           line=dash, layer='below'))
    shapes.append(dict(type='line', xref=xr + ' domain', yref=yr, x0=0, x1=1, y0=Q_CUT, y1=Q_CUT,
                       line=dash, layer='below'))

# legend boxes
for bx0, bx1, by0, by1 in [(77, 156, 38, 100), (486, 567, 39, 102)]:
    shapes.append(dict(type='rect', xref='paper', yref='paper', x0=px(bx0), x1=px(bx1), y0=py(by1), y1=py(by0),
                       line=dict(color='#333', width=1.5), fillcolor='white', layer='above'))
fig.update_layout(shapes=shapes)

ann = []
lab_font = dict(family=FONT, size=15.5, color='black')
for i, name in enumerate(endo_label_names):
    ann.append(dict(x=endo_label_x[i], y=endo_label_y[i], xref='x', yref='y', text=name, showarrow=True,
                    arrowhead=0, arrowwidth=1, arrowcolor='black', standoff=3,
                    ax=endo_label_ax[i], ay=endo_label_ay[i], font=lab_font, borderpad=0))
for i, name in enumerate(lyso_label_names):
    if lyso_label_ax[i] is None:
        ann.append(dict(x=lyso_label_x[i], y=lyso_label_y[i], xref='x2', yref='y2', text=name, showarrow=False,
                        xanchor='left', yanchor='middle', xshift=5, yshift=2, font=lab_font))
    else:
        ann.append(dict(x=lyso_label_x[i], y=lyso_label_y[i], xref='x2', yref='y2', text=name, showarrow=True,
                        arrowhead=0, arrowwidth=1, arrowcolor='black', standoff=3,
                        ax=lyso_label_ax[i], ay=lyso_label_ay[i], font=lab_font, borderpad=0))

# legend entries
for sx, tx, ys in [(89, 96, [50.5, 69, 87.5]), (498, 505, [52, 71, 90])]:
    for j in range(3):
        ann.append(dict(xref='paper', yref='paper', x=px(sx), y=py(ys[j]), text='▼', showarrow=False,
                        xanchor='center', yanchor='middle',
                        font=dict(family='DejaVu Sans', size=15, color=legend_colors[j])))
        ann.append(dict(xref='paper', yref='paper', x=px(tx), y=py(ys[j]), text=legend_names[j],
                        showarrow=False, xanchor='left', yanchor='middle',
                        font=dict(family=FONT, size=17.5, color='black')))

bold = dict(family=FONT, size=15.5, color='black')
for t, x, y in [('<b>Endo-IP</b>', 76, 21), ('<b>Lyso-IP</b>', 485, 22)]:
    ann.append(dict(xref='paper', yref='paper', x=px(x), y=py(y), text=t, showarrow=False, xanchor='left',
                    yanchor='middle', font=dict(family=FONT, size=18, color='black')))
for x in (239, 648):
    ann.append(dict(xref='paper', yref='paper', x=px(x), y=py(364), text='<b>log2(fold−change)</b>',
                    showarrow=False, xanchor='center', yanchor='middle', font=bold))
for x, y in ((33, 184), (443, 185)):
    ann.append(dict(xref='paper', yref='paper', x=px(x), y=py(y), text='<b>-log10(q−value)</b>',
                    showarrow=False, xanchor='center', yanchor='middle', textangle=-90,
                    font=dict(family=FONT, size=16, color='black')))
# fragments of neighbouring panel at the far left edge
for t, y in (('1', 64), ('2', 131), ('V', 339)):
    ann.append(dict(xref='paper', yref='paper', x=px(8), y=py(y), text='<b>' + t + '</b>', showarrow=False,
                    xanchor='right', yanchor='middle', font=dict(family=FONT, size=20, color='#222')))

fig.update_layout(annotations=ann)
post = ("document.documentElement.style.margin='0';document.documentElement.style.overflow='hidden';"
        "document.body.style.margin='0';document.body.style.padding='0';document.body.style.overflow='hidden';"
        "var gd=document.getElementById('{plot_id}');gd.style.position='absolute';gd.style.left='0px';"
        "gd.style.top='0px';window.scrollTo(0,0);")
fig.write_html('out.html', config={'responsive': False, 'displayModeBar': False}, post_script=post)
